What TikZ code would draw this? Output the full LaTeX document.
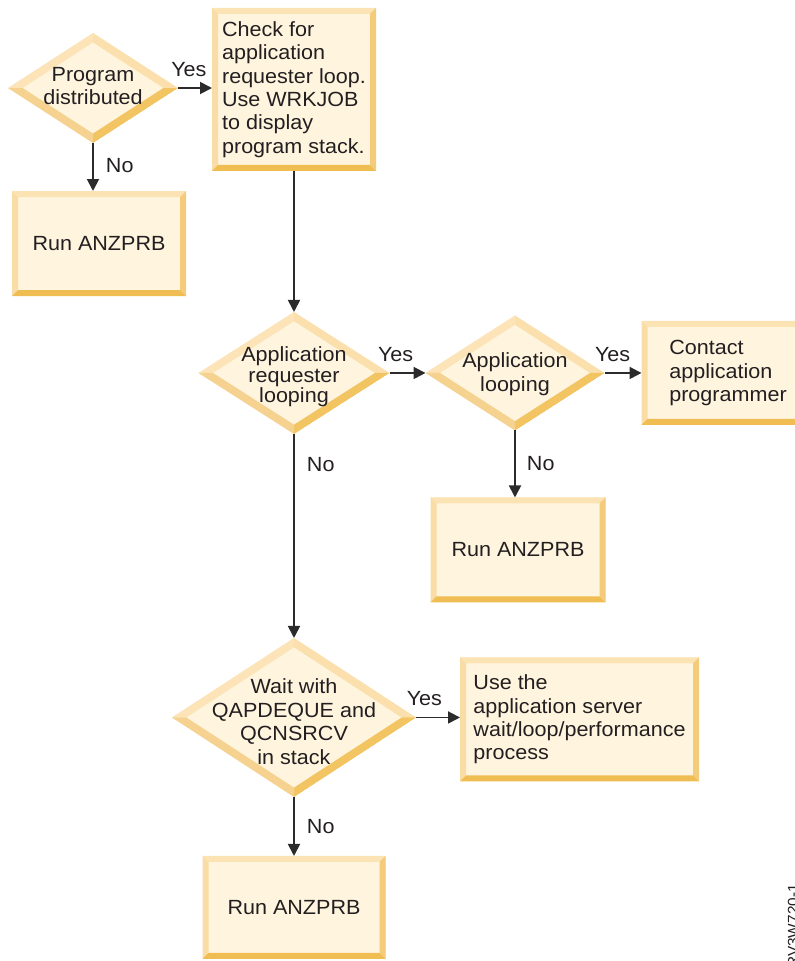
\documentclass[tikz,border=0pt]{standalone}
\usepackage{fontspec}
\setmainfont{Liberation Sans}[FakeStretch=1.05]
\usetikzlibrary{arrows.meta,positioning,calc,shapes.geometric}
\definecolor{boxfill}{HTML}{FFF5DF}
\definecolor{bevtop}{HTML}{FCE3B4}
\definecolor{bevleft}{HTML}{FADDA6}
\definecolor{bevright}{HTML}{F4CB7A}
\definecolor{bevbot}{HTML}{F0BD52}
\definecolor{dtl}{HTML}{FCE4B8}
\definecolor{dtr}{HTML}{FBE0AE}
\definecolor{dbr}{HTML}{F2C462}
\definecolor{dbl}{HTML}{F5D28F}
\definecolor{txtgray}{HTML}{231F20}
\definecolor{linegray}{HTML}{2B2B2B}
\newcommand{\bevw}{4.5pt}

\begin{document}
\begin{tikzpicture}[>={Triangle[length=9pt,width=9pt]},
  font=\fontsize{15.4pt}{17.6pt}\selectfont, text=txtgray,
  procbox/.style={rectangle,fill=boxfill,inner sep=0pt,outer sep=0pt,align=left,
    path picture={
      \coordinate (nw) at (path picture bounding box.north west);
      \coordinate (ne) at (path picture bounding box.north east);
      \coordinate (se) at (path picture bounding box.south east);
      \coordinate (sw) at (path picture bounding box.south west);
      \fill[bevtop] (nw) -- (ne) -- ([shift={(-\bevw,-\bevw)}]ne) -- ([shift={(\bevw,-\bevw)}]nw) -- cycle;
      \fill[bevleft] (nw) -- ([shift={(\bevw,-\bevw)}]nw) -- ([shift={(\bevw,\bevw)}]sw) -- (sw) -- cycle;
      \fill[bevright] (ne) -- (se) -- ([shift={(-\bevw,\bevw)}]se) -- ([shift={(-\bevw,-\bevw)}]ne) -- cycle;
      \fill[bevbot] (sw) -- ([shift={(\bevw,\bevw)}]sw) -- ([shift={(-\bevw,\bevw)}]se) -- (se) -- cycle;
    }},
  dscale/.store in=\dscale,
  decision/.style={diamond,fill=boxfill,inner sep=0pt,outer sep=0pt,dscale=0.835,
    path picture={
      \coordinate (pc) at (path picture bounding box.center);
      \coordinate (pn) at (path picture bounding box.north);
      \coordinate (pe) at (path picture bounding box.east);
      \coordinate (ps) at (path picture bounding box.south);
      \coordinate (pw) at (path picture bounding box.west);
      \fill[dtl] (pc) -- (pw) -- (pn) -- cycle;
      \fill[dtr] (pc) -- (pn) -- (pe) -- cycle;
      \fill[dbr] (pc) -- (pe) -- (ps) -- cycle;
      \fill[dbl] (pc) -- (ps) -- (pw) -- cycle;
      \fill[boxfill] ($(pc)!\dscale!(pn)$) -- ($(pc)!\dscale!(pe)$)
        -- ($(pc)!\dscale!(ps)$) -- ($(pc)!\dscale!(pw)$) -- cycle;
    }},
  dtext/.style={align=center,inner sep=0pt},
  flow/.style={->,line width=1.4pt,draw=linegray},
  answer/.style={inner sep=0pt}]

\useasboundingbox (0,0) rectangle (596.25pt,-720.75pt);

% top: program distributed
\node[decision,dscale=0.825,minimum width=127.5pt,minimum height=82.5pt,
  label={[dtext,yshift=1.5pt]center:{Program\\distributed}}] (dist) at (69.75pt,-66pt) {};
\node[procbox,right=25.5pt of dist,yshift=-1.1pt,minimum width=123pt,minimum height=122.25pt] (chk)
  {Check for\\application\\requester loop.\\Use WRKJOB\\to display\\program stack.};
\node[procbox,below=36pt of dist,xshift=4.5pt,minimum width=130.5pt,minimum height=78.75pt] (run1) {Run ANZPRB};

% middle: requester looping
\node[decision,dscale=0.845,below=105.75pt of chk,minimum width=143.25pt,minimum height=91.5pt,
  label={[dtext,yshift=-3pt,font=\fontsize{15.4pt}{15.5pt}\selectfont]center:{Application\\requester\\looping}}] (arloop) {};
\node[decision,right=27pt of arloop,minimum width=134.25pt,minimum height=86.25pt,
  label={[dtext,yshift=-1pt]center:{Application\\looping}}] (aloop) {};
\node[procbox,right=27.75pt of aloop,minimum width=129.75pt,minimum height=78pt] (contact)
  {Contact\\application\\programmer};
\node[procbox,below=50.25pt of aloop,xshift=2.25pt,minimum width=131.25pt,minimum height=78.75pt] (run2) {Run ANZPRB};

% bottom: wait in stack
\node[decision,dscale=0.88,below=153pt of arloop,minimum width=183pt,minimum height=119.25pt,
  label={[dtext,yshift=-3pt]center:{Wait with\\QAPDEQUE and\\QCNSRCV\\in stack}}] (wait) {};
\node[procbox,right=33pt of wait,yshift=-1.5pt,minimum width=179.25pt,minimum height=93pt] (server)
  {Use the\\application server\\wait/loop/performance\\process};
\node[procbox,below=44.25pt of wait,minimum width=137.25pt,minimum height=77.25pt] (run3) {Run ANZPRB};

% connectors
\draw[flow] (dist.east) -- (dist.east -| chk.west) node[answer,pos=0.32,above=8pt] {Yes};
\draw[flow] (dist.south) -- (dist.south |- run1.north) node[answer,pos=0.46,right=9pt] {No};
\draw[flow] (chk.south) -- (arloop.north);
\draw[flow] (arloop.east) -- (aloop.west) node[answer,pos=0.17,above=8pt] {Yes};
\draw[flow] (aloop.east) -- (contact.west) node[answer,pos=0.22,above=8pt] {Yes};
\draw[flow] (aloop.south) -- (aloop.south |- run2.north) node[answer,pos=0.5,right=8.25pt] {No};
\draw[flow] (arloop.south) -- (wait.north) node[answer,pos=0.15,right=9pt] {No};
\draw[flow] (wait.east) -- (wait.east -| server.west) node[answer,pos=0.19,above=8pt] {Yes};
\draw[flow] (wait.south) -- (run3.north) node[answer,pos=0.5,right=9pt] {No};

% figure id
\node[anchor=base west,rotate=90,inner sep=0pt,font=\fontsize{11pt}{13pt}\selectfont] (figid)
  at (598.5pt,-726pt) {RV3W720-1};
\end{tikzpicture}
\end{document}
